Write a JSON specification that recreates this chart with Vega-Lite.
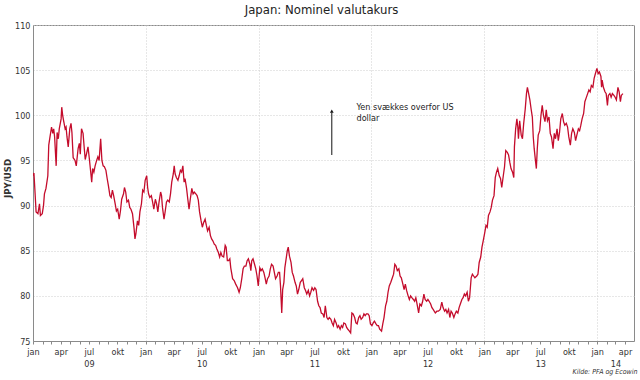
{
  "$schema": "https://vega.github.io/schema/vega-lite/v6.json",
  "width": 601,
  "height": 316,
  "autosize": {"type": "none"},
  "padding": {"left": 33, "top": 25, "right": 6, "bottom": 39},
  "background": "white",
  "config": {
    "font": "DejaVu Sans Condensed, DejaVu Sans, sans-serif",
    "view": {"stroke": "#8a8a8a", "strokeWidth": 1}
  },
  "title": {
    "text": "Japan: Nominel valutakurs",
    "fontSize": 13,
    "fontWeight": "normal",
    "color": "#222222",
    "anchor": "middle",
    "baseline": "alphabetic",
    "offset": 7,
    "dy": 13,
    "dx": -12
  },
  "datasets": {
    "fx": [
      {"date": "2009-01-01", "jpy": 93.3}, {"date": "2009-01-04", "jpy": 93.6}, {"date": "2009-01-07", "jpy": 91.8},
      {"date": "2009-01-11", "jpy": 89.3}, {"date": "2009-01-17", "jpy": 89.1}, {"date": "2009-01-22", "jpy": 90.2},
      {"date": "2009-01-25", "jpy": 88.9}, {"date": "2009-01-31", "jpy": 89.1}, {"date": "2009-02-04", "jpy": 90.0},
      {"date": "2009-02-07", "jpy": 91.3}, {"date": "2009-02-12", "jpy": 91.9}, {"date": "2009-02-18", "jpy": 93.3},
      {"date": "2009-02-21", "jpy": 96.7}, {"date": "2009-02-25", "jpy": 97.6}, {"date": "2009-03-02", "jpy": 98.7},
      {"date": "2009-03-06", "jpy": 98.0}, {"date": "2009-03-09", "jpy": 98.5}, {"date": "2009-03-12", "jpy": 97.6},
      {"date": "2009-03-17", "jpy": 94.4}, {"date": "2009-03-20", "jpy": 98.1}, {"date": "2009-03-24", "jpy": 97.4},
      {"date": "2009-03-27", "jpy": 98.5}, {"date": "2009-04-02", "jpy": 99.6}, {"date": "2009-04-04", "jpy": 100.9},
      {"date": "2009-04-07", "jpy": 100.0}, {"date": "2009-04-10", "jpy": 99.4}, {"date": "2009-04-15", "jpy": 98.5},
      {"date": "2009-04-18", "jpy": 98.7}, {"date": "2009-04-21", "jpy": 97.6}, {"date": "2009-04-25", "jpy": 96.5},
      {"date": "2009-04-30", "jpy": 98.5}, {"date": "2009-05-04", "jpy": 99.1}, {"date": "2009-05-07", "jpy": 98.1},
      {"date": "2009-05-11", "jpy": 95.3}, {"date": "2009-05-17", "jpy": 95.0}, {"date": "2009-05-21", "jpy": 94.4},
      {"date": "2009-05-27", "jpy": 96.3}, {"date": "2009-05-31", "jpy": 96.9}, {"date": "2009-06-03", "jpy": 95.7},
      {"date": "2009-06-07", "jpy": 98.5}, {"date": "2009-06-12", "jpy": 98.0}, {"date": "2009-06-16", "jpy": 96.3},
      {"date": "2009-06-19", "jpy": 95.1}, {"date": "2009-06-23", "jpy": 95.7}, {"date": "2009-06-28", "jpy": 96.5},
      {"date": "2009-07-02", "jpy": 95.3}, {"date": "2009-07-05", "jpy": 94.3}, {"date": "2009-07-10", "jpy": 92.6},
      {"date": "2009-07-13", "jpy": 94.1}, {"date": "2009-07-17", "jpy": 93.7}, {"date": "2009-07-21", "jpy": 94.4},
      {"date": "2009-07-26", "jpy": 95.0}, {"date": "2009-07-30", "jpy": 95.4}, {"date": "2009-08-03", "jpy": 95.0},
      {"date": "2009-08-08", "jpy": 97.4}, {"date": "2009-08-12", "jpy": 95.0}, {"date": "2009-08-16", "jpy": 94.4},
      {"date": "2009-08-20", "jpy": 94.3}, {"date": "2009-08-25", "jpy": 93.9}, {"date": "2009-08-29", "jpy": 93.0},
      {"date": "2009-09-02", "jpy": 92.2}, {"date": "2009-09-07", "jpy": 91.1}, {"date": "2009-09-11", "jpy": 90.9},
      {"date": "2009-09-15", "jpy": 91.7}, {"date": "2009-09-19", "jpy": 91.1}, {"date": "2009-09-24", "jpy": 90.2},
      {"date": "2009-09-28", "jpy": 89.4}, {"date": "2009-10-02", "jpy": 89.6}, {"date": "2009-10-07", "jpy": 88.5},
      {"date": "2009-10-11", "jpy": 89.4}, {"date": "2009-10-15", "jpy": 90.7}, {"date": "2009-10-21", "jpy": 91.3},
      {"date": "2009-10-24", "jpy": 92.0}, {"date": "2009-10-28", "jpy": 91.5}, {"date": "2009-11-01", "jpy": 90.4},
      {"date": "2009-11-06", "jpy": 90.6}, {"date": "2009-11-10", "jpy": 89.8}, {"date": "2009-11-14", "jpy": 89.6},
      {"date": "2009-11-19", "jpy": 89.1}, {"date": "2009-11-24", "jpy": 87.5}, {"date": "2009-11-27", "jpy": 86.3},
      {"date": "2009-11-30", "jpy": 86.9}, {"date": "2009-12-05", "jpy": 88.3}, {"date": "2009-12-09", "jpy": 87.8},
      {"date": "2009-12-13", "jpy": 89.3}, {"date": "2009-12-18", "jpy": 90.2}, {"date": "2009-12-22", "jpy": 91.7},
      {"date": "2009-12-26", "jpy": 91.5}, {"date": "2009-12-30", "jpy": 92.8}, {"date": "2010-01-04", "jpy": 93.3},
      {"date": "2010-01-07", "jpy": 92.0}, {"date": "2010-01-10", "jpy": 91.3}, {"date": "2010-01-14", "jpy": 90.9},
      {"date": "2010-01-19", "jpy": 91.1}, {"date": "2010-01-23", "jpy": 90.4}, {"date": "2010-01-27", "jpy": 89.6},
      {"date": "2010-02-01", "jpy": 90.7}, {"date": "2010-02-05", "jpy": 90.2}, {"date": "2010-02-09", "jpy": 89.3},
      {"date": "2010-02-13", "jpy": 90.4}, {"date": "2010-02-18", "jpy": 91.5}, {"date": "2010-02-21", "jpy": 91.1},
      {"date": "2010-02-24", "jpy": 89.8}, {"date": "2010-03-01", "jpy": 88.5}, {"date": "2010-03-05", "jpy": 89.4},
      {"date": "2010-03-09", "jpy": 90.4}, {"date": "2010-03-13", "jpy": 90.6}, {"date": "2010-03-18", "jpy": 90.4},
      {"date": "2010-03-22", "jpy": 91.3}, {"date": "2010-03-26", "jpy": 92.6}, {"date": "2010-03-31", "jpy": 93.5},
      {"date": "2010-04-03", "jpy": 94.4}, {"date": "2010-04-06", "jpy": 93.5}, {"date": "2010-04-10", "jpy": 93.1},
      {"date": "2010-04-15", "jpy": 92.8}, {"date": "2010-04-19", "jpy": 93.3}, {"date": "2010-04-23", "jpy": 93.9},
      {"date": "2010-04-27", "jpy": 93.7}, {"date": "2010-05-01", "jpy": 94.4}, {"date": "2010-05-05", "jpy": 92.6},
      {"date": "2010-05-08", "jpy": 93.0}, {"date": "2010-05-13", "jpy": 91.9}, {"date": "2010-05-17", "jpy": 90.7},
      {"date": "2010-05-21", "jpy": 89.6}, {"date": "2010-05-25", "jpy": 90.7}, {"date": "2010-05-30", "jpy": 91.9},
      {"date": "2010-06-03", "jpy": 91.3}, {"date": "2010-06-07", "jpy": 91.5}, {"date": "2010-06-12", "jpy": 91.3},
      {"date": "2010-06-16", "jpy": 91.1}, {"date": "2010-06-20", "jpy": 90.6}, {"date": "2010-06-24", "jpy": 89.3},
      {"date": "2010-06-29", "jpy": 88.3}, {"date": "2010-07-03", "jpy": 87.6}, {"date": "2010-07-07", "jpy": 88.1},
      {"date": "2010-07-12", "jpy": 88.5}, {"date": "2010-07-16", "jpy": 87.8}, {"date": "2010-07-20", "jpy": 87.2},
      {"date": "2010-07-25", "jpy": 87.6}, {"date": "2010-07-29", "jpy": 86.7}, {"date": "2010-08-02", "jpy": 86.3},
      {"date": "2010-08-06", "jpy": 86.1}, {"date": "2010-08-11", "jpy": 85.7}, {"date": "2010-08-15", "jpy": 85.6},
      {"date": "2010-08-19", "jpy": 85.2}, {"date": "2010-08-24", "jpy": 84.8}, {"date": "2010-08-28", "jpy": 84.3},
      {"date": "2010-09-01", "jpy": 84.8}, {"date": "2010-09-05", "jpy": 84.4}, {"date": "2010-09-10", "jpy": 84.3},
      {"date": "2010-09-15", "jpy": 85.6}, {"date": "2010-09-18", "jpy": 85.4}, {"date": "2010-09-22", "jpy": 83.9},
      {"date": "2010-09-26", "jpy": 83.9}, {"date": "2010-09-30", "jpy": 84.1}, {"date": "2010-10-03", "jpy": 83.1},
      {"date": "2010-10-09", "jpy": 81.9}, {"date": "2010-10-14", "jpy": 81.7}, {"date": "2010-10-19", "jpy": 81.3},
      {"date": "2010-10-25", "jpy": 80.9}, {"date": "2010-10-30", "jpy": 80.4}, {"date": "2010-11-03", "jpy": 80.9},
      {"date": "2010-11-08", "jpy": 82.0}, {"date": "2010-11-12", "jpy": 83.0}, {"date": "2010-11-16", "jpy": 83.3},
      {"date": "2010-11-21", "jpy": 83.3}, {"date": "2010-11-25", "jpy": 83.9}, {"date": "2010-11-29", "jpy": 84.1},
      {"date": "2010-12-04", "jpy": 83.5}, {"date": "2010-12-07", "jpy": 82.8}, {"date": "2010-12-10", "jpy": 83.9},
      {"date": "2010-12-14", "jpy": 84.1}, {"date": "2010-12-19", "jpy": 83.5}, {"date": "2010-12-23", "jpy": 83.0},
      {"date": "2010-12-27", "jpy": 82.2}, {"date": "2010-12-31", "jpy": 81.1}, {"date": "2011-01-05", "jpy": 83.1},
      {"date": "2011-01-09", "jpy": 82.8}, {"date": "2011-01-13", "jpy": 83.0}, {"date": "2011-01-18", "jpy": 82.6},
      {"date": "2011-01-22", "jpy": 82.0}, {"date": "2011-01-26", "jpy": 81.3}, {"date": "2011-01-30", "jpy": 81.9},
      {"date": "2011-02-04", "jpy": 82.2}, {"date": "2011-02-08", "jpy": 83.0}, {"date": "2011-02-12", "jpy": 83.5},
      {"date": "2011-02-17", "jpy": 83.3}, {"date": "2011-02-21", "jpy": 82.6}, {"date": "2011-02-25", "jpy": 81.9},
      {"date": "2011-03-02", "jpy": 82.2}, {"date": "2011-03-06", "jpy": 82.6}, {"date": "2011-03-10", "jpy": 82.6},
      {"date": "2011-03-13", "jpy": 81.1}, {"date": "2011-03-17", "jpy": 78.1}, {"date": "2011-03-20", "jpy": 80.7},
      {"date": "2011-03-24", "jpy": 81.5}, {"date": "2011-03-27", "jpy": 83.1}, {"date": "2011-04-01", "jpy": 84.3},
      {"date": "2011-04-04", "jpy": 85.0}, {"date": "2011-04-07", "jpy": 85.4}, {"date": "2011-04-11", "jpy": 84.4},
      {"date": "2011-04-16", "jpy": 83.7}, {"date": "2011-04-20", "jpy": 82.6}, {"date": "2011-04-24", "jpy": 82.2},
      {"date": "2011-04-29", "jpy": 81.5}, {"date": "2011-05-03", "jpy": 81.1}, {"date": "2011-05-07", "jpy": 80.2},
      {"date": "2011-05-11", "jpy": 80.7}, {"date": "2011-05-16", "jpy": 81.5}, {"date": "2011-05-20", "jpy": 81.7},
      {"date": "2011-05-24", "jpy": 81.9}, {"date": "2011-05-29", "jpy": 80.9}, {"date": "2011-06-02", "jpy": 80.6},
      {"date": "2011-06-06", "jpy": 80.2}, {"date": "2011-06-11", "jpy": 80.6}, {"date": "2011-06-15", "jpy": 80.0},
      {"date": "2011-06-19", "jpy": 80.4}, {"date": "2011-06-23", "jpy": 80.9}, {"date": "2011-06-28", "jpy": 80.6},
      {"date": "2011-07-02", "jpy": 80.9}, {"date": "2011-07-06", "jpy": 80.7}, {"date": "2011-07-11", "jpy": 79.4},
      {"date": "2011-07-15", "jpy": 78.9}, {"date": "2011-07-19", "jpy": 78.7}, {"date": "2011-07-23", "jpy": 78.1},
      {"date": "2011-07-28", "jpy": 78.0}, {"date": "2011-08-01", "jpy": 77.6}, {"date": "2011-08-05", "jpy": 78.9},
      {"date": "2011-08-10", "jpy": 77.6}, {"date": "2011-08-14", "jpy": 77.4}, {"date": "2011-08-18", "jpy": 77.6},
      {"date": "2011-08-23", "jpy": 77.4}, {"date": "2011-08-27", "jpy": 77.0}, {"date": "2011-08-31", "jpy": 76.7},
      {"date": "2011-09-04", "jpy": 77.4}, {"date": "2011-09-09", "jpy": 77.0}, {"date": "2011-09-13", "jpy": 76.5},
      {"date": "2011-09-17", "jpy": 76.7}, {"date": "2011-09-22", "jpy": 76.3}, {"date": "2011-09-26", "jpy": 76.7},
      {"date": "2011-09-30", "jpy": 76.5}, {"date": "2011-10-04", "jpy": 77.0}, {"date": "2011-10-09", "jpy": 76.9},
      {"date": "2011-10-13", "jpy": 76.5}, {"date": "2011-10-17", "jpy": 76.3}, {"date": "2011-10-22", "jpy": 76.1},
      {"date": "2011-10-26", "jpy": 75.9}, {"date": "2011-10-30", "jpy": 78.1}, {"date": "2011-11-03", "jpy": 78.0},
      {"date": "2011-11-08", "jpy": 77.6}, {"date": "2011-11-12", "jpy": 77.0}, {"date": "2011-11-16", "jpy": 76.9},
      {"date": "2011-11-21", "jpy": 77.6}, {"date": "2011-11-25", "jpy": 77.8}, {"date": "2011-11-29", "jpy": 77.4},
      {"date": "2011-12-04", "jpy": 77.6}, {"date": "2011-12-08", "jpy": 78.0}, {"date": "2011-12-12", "jpy": 77.8},
      {"date": "2011-12-16", "jpy": 78.0}, {"date": "2011-12-21", "jpy": 78.0}, {"date": "2011-12-25", "jpy": 77.8},
      {"date": "2011-12-29", "jpy": 76.9}, {"date": "2012-01-03", "jpy": 76.7}, {"date": "2012-01-07", "jpy": 77.0},
      {"date": "2012-01-11", "jpy": 77.2}, {"date": "2012-01-16", "jpy": 76.9}, {"date": "2012-01-20", "jpy": 76.7},
      {"date": "2012-01-24", "jpy": 76.7}, {"date": "2012-01-28", "jpy": 76.3}, {"date": "2012-02-03", "jpy": 76.1},
      {"date": "2012-02-07", "jpy": 76.9}, {"date": "2012-02-11", "jpy": 77.6}, {"date": "2012-02-16", "jpy": 78.9},
      {"date": "2012-02-20", "jpy": 79.4}, {"date": "2012-02-24", "jpy": 80.4}, {"date": "2012-02-28", "jpy": 81.1},
      {"date": "2012-03-04", "jpy": 81.5}, {"date": "2012-03-09", "jpy": 82.0}, {"date": "2012-03-13", "jpy": 82.4},
      {"date": "2012-03-17", "jpy": 83.5}, {"date": "2012-03-21", "jpy": 83.3}, {"date": "2012-03-25", "jpy": 82.8},
      {"date": "2012-03-30", "jpy": 83.0}, {"date": "2012-04-03", "jpy": 82.2}, {"date": "2012-04-07", "jpy": 82.0},
      {"date": "2012-04-12", "jpy": 81.3}, {"date": "2012-04-16", "jpy": 80.7}, {"date": "2012-04-20", "jpy": 81.3},
      {"date": "2012-04-24", "jpy": 80.6}, {"date": "2012-04-29", "jpy": 80.0}, {"date": "2012-05-03", "jpy": 79.6},
      {"date": "2012-05-07", "jpy": 80.0}, {"date": "2012-05-11", "jpy": 79.8}, {"date": "2012-05-16", "jpy": 79.6},
      {"date": "2012-05-20", "jpy": 79.4}, {"date": "2012-05-24", "jpy": 79.8}, {"date": "2012-05-29", "jpy": 78.9},
      {"date": "2012-06-02", "jpy": 78.1}, {"date": "2012-06-06", "jpy": 79.1}, {"date": "2012-06-11", "jpy": 78.9},
      {"date": "2012-06-15", "jpy": 79.4}, {"date": "2012-06-19", "jpy": 80.2}, {"date": "2012-06-23", "jpy": 79.6},
      {"date": "2012-06-28", "jpy": 79.4}, {"date": "2012-07-02", "jpy": 79.6}, {"date": "2012-07-06", "jpy": 79.4},
      {"date": "2012-07-11", "jpy": 79.1}, {"date": "2012-07-15", "jpy": 78.7}, {"date": "2012-07-19", "jpy": 78.5},
      {"date": "2012-07-26", "jpy": 78.1}, {"date": "2012-07-31", "jpy": 78.3}, {"date": "2012-08-05", "jpy": 78.3},
      {"date": "2012-08-11", "jpy": 78.5}, {"date": "2012-08-16", "jpy": 79.3}, {"date": "2012-08-20", "jpy": 78.7},
      {"date": "2012-08-25", "jpy": 78.3}, {"date": "2012-08-29", "jpy": 78.5}, {"date": "2012-09-02", "jpy": 78.1},
      {"date": "2012-09-07", "jpy": 78.5}, {"date": "2012-09-11", "jpy": 77.6}, {"date": "2012-09-15", "jpy": 78.3},
      {"date": "2012-09-19", "jpy": 78.1}, {"date": "2012-09-24", "jpy": 77.6}, {"date": "2012-09-28", "jpy": 78.0},
      {"date": "2012-10-02", "jpy": 78.3}, {"date": "2012-10-07", "jpy": 78.1}, {"date": "2012-10-11", "jpy": 78.7},
      {"date": "2012-10-15", "jpy": 79.1}, {"date": "2012-10-20", "jpy": 79.6}, {"date": "2012-10-24", "jpy": 79.8},
      {"date": "2012-10-28", "jpy": 80.2}, {"date": "2012-11-01", "jpy": 80.0}, {"date": "2012-11-06", "jpy": 80.4},
      {"date": "2012-11-10", "jpy": 79.4}, {"date": "2012-11-14", "jpy": 79.8}, {"date": "2012-11-19", "jpy": 82.0},
      {"date": "2012-11-23", "jpy": 82.4}, {"date": "2012-11-27", "jpy": 82.2}, {"date": "2012-12-01", "jpy": 82.0},
      {"date": "2012-12-07", "jpy": 82.2}, {"date": "2012-12-11", "jpy": 82.4}, {"date": "2012-12-15", "jpy": 83.7},
      {"date": "2012-12-20", "jpy": 84.3}, {"date": "2012-12-24", "jpy": 85.4}, {"date": "2012-12-28", "jpy": 86.1},
      {"date": "2013-01-02", "jpy": 87.0}, {"date": "2013-01-06", "jpy": 87.8}, {"date": "2013-01-10", "jpy": 87.6},
      {"date": "2013-01-14", "jpy": 88.9}, {"date": "2013-01-19", "jpy": 89.3}, {"date": "2013-01-23", "jpy": 89.8},
      {"date": "2013-01-27", "jpy": 90.6}, {"date": "2013-02-01", "jpy": 91.1}, {"date": "2013-02-05", "jpy": 93.1},
      {"date": "2013-02-09", "jpy": 93.7}, {"date": "2013-02-13", "jpy": 94.1}, {"date": "2013-02-18", "jpy": 93.3},
      {"date": "2013-02-22", "jpy": 93.0}, {"date": "2013-02-26", "jpy": 92.0}, {"date": "2013-03-03", "jpy": 93.3},
      {"date": "2013-03-07", "jpy": 94.3}, {"date": "2013-03-11", "jpy": 96.1}, {"date": "2013-03-16", "jpy": 95.9},
      {"date": "2013-03-20", "jpy": 95.6}, {"date": "2013-03-24", "jpy": 94.8}, {"date": "2013-03-28", "jpy": 94.1},
      {"date": "2013-04-02", "jpy": 93.7}, {"date": "2013-04-06", "jpy": 93.1}, {"date": "2013-04-08", "jpy": 96.5},
      {"date": "2013-04-12", "jpy": 98.5}, {"date": "2013-04-16", "jpy": 99.6}, {"date": "2013-04-19", "jpy": 98.7},
      {"date": "2013-04-21", "jpy": 97.4}, {"date": "2013-04-25", "jpy": 99.4}, {"date": "2013-04-30", "jpy": 97.8},
      {"date": "2013-05-04", "jpy": 97.4}, {"date": "2013-05-08", "jpy": 99.1}, {"date": "2013-05-13", "jpy": 100.7},
      {"date": "2013-05-17", "jpy": 102.4}, {"date": "2013-05-20", "jpy": 103.1}, {"date": "2013-05-23", "jpy": 102.6},
      {"date": "2013-05-28", "jpy": 101.7}, {"date": "2013-06-01", "jpy": 100.7}, {"date": "2013-06-05", "jpy": 99.8},
      {"date": "2013-06-08", "jpy": 97.6}, {"date": "2013-06-11", "jpy": 96.3}, {"date": "2013-06-15", "jpy": 95.0},
      {"date": "2013-06-18", "jpy": 94.1}, {"date": "2013-06-21", "jpy": 96.3}, {"date": "2013-06-24", "jpy": 97.8},
      {"date": "2013-06-29", "jpy": 98.3}, {"date": "2013-07-03", "jpy": 100.0}, {"date": "2013-07-07", "jpy": 101.1},
      {"date": "2013-07-11", "jpy": 100.0}, {"date": "2013-07-16", "jpy": 99.3}, {"date": "2013-07-20", "jpy": 100.6},
      {"date": "2013-07-24", "jpy": 99.4}, {"date": "2013-07-29", "jpy": 99.8}, {"date": "2013-08-02", "jpy": 98.0},
      {"date": "2013-08-06", "jpy": 97.6}, {"date": "2013-08-11", "jpy": 96.3}, {"date": "2013-08-15", "jpy": 98.0},
      {"date": "2013-08-19", "jpy": 97.4}, {"date": "2013-08-24", "jpy": 98.5}, {"date": "2013-08-28", "jpy": 97.2},
      {"date": "2013-09-01", "jpy": 98.1}, {"date": "2013-09-05", "jpy": 99.6}, {"date": "2013-09-10", "jpy": 100.2},
      {"date": "2013-09-14", "jpy": 99.3}, {"date": "2013-09-18", "jpy": 98.9}, {"date": "2013-09-23", "jpy": 99.1},
      {"date": "2013-09-27", "jpy": 98.7}, {"date": "2013-10-01", "jpy": 97.6}, {"date": "2013-10-06", "jpy": 96.7},
      {"date": "2013-10-10", "jpy": 98.0}, {"date": "2013-10-14", "jpy": 98.5}, {"date": "2013-10-19", "jpy": 98.1},
      {"date": "2013-10-23", "jpy": 97.2}, {"date": "2013-10-27", "jpy": 97.8}, {"date": "2013-11-01", "jpy": 98.5},
      {"date": "2013-11-05", "jpy": 98.3}, {"date": "2013-11-09", "jpy": 98.9}, {"date": "2013-11-13", "jpy": 99.6},
      {"date": "2013-11-18", "jpy": 100.2}, {"date": "2013-11-22", "jpy": 101.5}, {"date": "2013-11-26", "jpy": 101.9},
      {"date": "2013-12-01", "jpy": 102.4}, {"date": "2013-12-05", "jpy": 102.8}, {"date": "2013-12-09", "jpy": 102.6},
      {"date": "2013-12-13", "jpy": 103.3}, {"date": "2013-12-18", "jpy": 103.1}, {"date": "2013-12-22", "jpy": 104.1},
      {"date": "2013-12-26", "jpy": 104.6}, {"date": "2013-12-31", "jpy": 105.2}, {"date": "2014-01-04", "jpy": 104.6},
      {"date": "2014-01-08", "jpy": 104.8}, {"date": "2014-01-13", "jpy": 104.3}, {"date": "2014-01-15", "jpy": 103.1},
      {"date": "2014-01-17", "jpy": 103.9}, {"date": "2014-01-21", "jpy": 103.1}, {"date": "2014-01-26", "jpy": 102.6},
      {"date": "2014-01-30", "jpy": 102.4}, {"date": "2014-02-03", "jpy": 101.1}, {"date": "2014-02-06", "jpy": 102.2},
      {"date": "2014-02-11", "jpy": 102.4}, {"date": "2014-02-15", "jpy": 102.0}, {"date": "2014-02-19", "jpy": 102.4},
      {"date": "2014-02-24", "jpy": 102.2}, {"date": "2014-02-28", "jpy": 102.0}, {"date": "2014-03-04", "jpy": 101.7},
      {"date": "2014-03-09", "jpy": 103.1}, {"date": "2014-03-13", "jpy": 102.6}, {"date": "2014-03-17", "jpy": 101.5},
      {"date": "2014-03-20", "jpy": 102.2}, {"date": "2014-03-25", "jpy": 102.4}
    ],
    "note": [
      {"date": "2011-08-26", "lo": 95.6, "hi": 100.3, "tip": 100.45, "tdate": "2011-11-14", "ty": 101.4, "label": "Yen svækkes overfor US\ndollar"}
    ]
  },
  "layer": [
    {
      "data": {"name": "fx"},
      "mark": {"type": "line", "color": "#c40c2c", "strokeWidth": 1.3, "clip": true},
      "encoding": {
        "x": {
          "field": "date",
          "type": "temporal",
          "scale": {"domain": [{"year": 2009, "month": 1, "date": 1}, {"year": 2014, "month": 4, "date": 30}]},
          "axis": {
            "title": "Kilde: PFA og Ecowin",
            "titleFontSize": 7,
            "titleFontStyle": "italic",
            "titleFontWeight": "normal",
            "titleColor": "#333333",
            "titleAnchor": "end",
            "titleAlign": "right",
            "titleBaseline": "middle",
            "titleX": 604,
            "titleY": 30,
            "tickCount": {"interval": "month", "step": 1},
            "labelExpr": "month(datum.value)==0 ? 'jan' : (month(datum.value)==2 && year(datum.value)==2014) ? [' ', '14'] : month(datum.value)==3 ? 'apr' : month(datum.value)==6 ? ['jul', timeFormat(datum.value, '%y')] : month(datum.value)==9 ? 'okt' : ''",
            "labelOverlap": false,
            "labelFlush": false,
            "labelBound": false,
            "labelFontSize": 9,
            "labelColor": "#333333",
            "labelLineHeight": 12,
            "labelPadding": 3,
            "tickSize": 3,
            "tickColor": "#888888",
            "domainColor": "#8a8a8a",
            "grid": true,
            "gridColor": "#cfcfcf",
            "gridDash": [1, 2],
            "gridOpacity": {"condition": {"test": "month(datum.value)==0", "value": 1}, "value": 0}
          }
        },
        "y": {
          "field": "jpy",
          "type": "quantitative",
          "scale": {"domain": [75, 110], "nice": false, "zero": false},
          "axis": {
            "title": "JPY/USD",
            "titleFontSize": 9.5,
            "titleFontWeight": "bold",
            "titleColor": "#333333",
            "titleX": -21,
            "titleY": 153,
            "titleBaseline": "bottom",
            "values": [75, 80, 85, 90, 95, 100, 105, 110],
            "labelFontSize": 9,
            "labelColor": "#333333",
            "labelPadding": 3,
            "ticks": false,
            "domainColor": "#8a8a8a",
            "grid": true,
            "gridColor": "#cfcfcf",
            "gridDash": [1, 2]
          }
        }
      }
    },
    {
      "data": {"name": "note"},
      "mark": {"type": "rule", "color": "#111111", "strokeWidth": 1},
      "encoding": {
        "x": {"field": "date", "type": "temporal"},
        "y": {"field": "lo", "type": "quantitative"},
        "y2": {"field": "hi"}
      }
    },
    {
      "data": {"name": "note"},
      "mark": {"type": "point", "shape": "triangle-up", "filled": true, "color": "#111111", "size": 14, "opacity": 1},
      "encoding": {
        "x": {"field": "date", "type": "temporal"},
        "y": {"field": "tip", "type": "quantitative"}
      }
    },
    {
      "data": {"name": "note"},
      "mark": {"type": "text", "align": "left", "baseline": "top", "fontSize": 9, "lineHeight": 11, "color": "#222222", "lineBreak": "\n"},
      "encoding": {
        "x": {"field": "tdate", "type": "temporal"},
        "y": {"field": "ty", "type": "quantitative"},
        "text": {"field": "label"}
      }
    }
  ]
}
